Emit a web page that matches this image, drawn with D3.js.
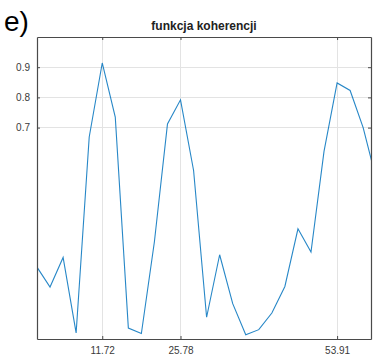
<!DOCTYPE html>
<html>
<head>
<meta charset="utf-8">
<script src="https://cdn.jsdelivr.net/npm/d3@7"></script>
<style>
  html, body { margin: 0; padding: 0; background: #fff; }
  svg { display: block; font-family: "Liberation Sans", Arial, sans-serif; }
</style>
</head>
<body>
<svg id="chart" width="377" height="358"></svg>
<script>
// ---- data ----
const frequencies = [0, 2.34, 4.69, 7.03, 9.38, 11.72, 14.06, 16.41, 18.75, 21.09, 23.44, 25.78,
  28.13, 30.47, 32.81, 35.16, 37.50, 39.84, 42.19, 44.53, 46.88, 49.22, 51.56, 53.91, 56.25, 58.59, 60.94];
const coherence = [0.238, 0.172, 0.270, 0.020, 0.669, 0.914, 0.735, 0.036, 0.018, 0.322, 0.712, 0.792,
  0.558, 0.072, 0.279, 0.117, 0.014, 0.031, 0.086, 0.174, 0.365, 0.288, 0.621, 0.848, 0.823, 0.700, 0.529];
const xTickValues = [11.72, 25.78, 53.91];
const xTickLabels = ["11.72", "25.78", "53.91"];
const yTickValues = [0.7, 0.8, 0.9];
const yTickLabels = ["0.7", "0.8", "0.9"];
const xDomain = [0, 60];
const yDomain = [0, 1];
const titleText = "funkcja koherencji";
const panelLabel = "e)";

// ---- layout ----
const W = 377, H = 358;
const margin = { left: 37, right: 6, top: 37, bottom: 19 };
const iw = W - margin.left - margin.right;
const ih = H - margin.top - margin.bottom;

const svg = d3.select("#chart");
const x = d3.scaleLinear().domain(xDomain).range([margin.left, margin.left + iw]);
const y = d3.scaleLinear().domain(yDomain).range([margin.top + ih, margin.top]);

const axisColor = "#4a4a4a";
const gridColor = "#e3e3e3";
const tickLen = 3;

// grid
const grid = svg.append("g");
grid.selectAll("line.gx").data(xTickValues).join("line")
  .attr("x1", d => x(d)).attr("x2", d => x(d))
  .attr("y1", margin.top).attr("y2", margin.top + ih)
  .attr("stroke", gridColor).attr("stroke-width", 1).attr("shape-rendering", "crispEdges");
grid.selectAll("line.gy").data(yTickValues).join("line")
  .attr("x1", margin.left).attr("x2", margin.left + iw)
  .attr("y1", d => y(d)).attr("y2", d => y(d))
  .attr("stroke", gridColor).attr("stroke-width", 1).attr("shape-rendering", "crispEdges");

// clip
svg.append("clipPath").attr("id", "clip").append("rect")
  .attr("x", margin.left).attr("y", margin.top).attr("width", iw).attr("height", ih);

// line
const pts = frequencies.map((f, i) => [f, coherence[i]]);
svg.append("path")
  .datum(pts)
  .attr("clip-path", "url(#clip)")
  .attr("fill", "none")
  .attr("stroke", "#0072BD")
  .attr("stroke-opacity", 0.85)
  .attr("stroke-width", 1.1)
  .attr("stroke-linejoin", "miter")
  .attr("d", d3.line().x(d => x(d[0])).y(d => y(d[1])));

// axes (inward ticks, box)
const fmtX = (d) => xTickLabels[xTickValues.indexOf(d)];
const fmtY = (d) => yTickLabels[yTickValues.indexOf(d)];

const gx = svg.append("g").attr("transform", `translate(0,${margin.top + ih})`)
  .call(d3.axisBottom(x).tickValues(xTickValues).tickFormat(fmtX).tickSizeInner(-tickLen).tickSizeOuter(0).tickPadding(8));
const gy = svg.append("g").attr("transform", `translate(${margin.left},0)`)
  .call(d3.axisLeft(y).tickValues(yTickValues).tickFormat(fmtY).tickSizeInner(-tickLen).tickSizeOuter(0).tickPadding(7));
const gxt = svg.append("g").attr("transform", `translate(0,${margin.top})`)
  .call(d3.axisTop(x).tickValues(xTickValues).tickFormat("").tickSizeInner(-tickLen).tickSizeOuter(0));
const gyr = svg.append("g").attr("transform", `translate(${margin.left + iw},0)`)
  .call(d3.axisRight(y).tickValues(yTickValues).tickFormat("").tickSizeInner(-tickLen).tickSizeOuter(0));

[gx, gy, gxt, gyr].forEach(g => {
  g.select(".domain").attr("stroke", axisColor).attr("stroke-width", 1.2);
  g.selectAll(".tick line").attr("stroke", axisColor);
  g.selectAll("text").attr("fill", "#3a3a3a").attr("font-size", 10)
    .attr("font-family", "'Liberation Sans', Arial, sans-serif");
});

// title
svg.append("text")
  .attr("x", margin.left + iw / 2).attr("y", 30)
  .attr("text-anchor", "middle")
  .attr("font-size", 12).attr("font-weight", "bold").attr("fill", "#222")
  .text(titleText);

// panel label
svg.append("text")
  .attr("x", 4).attr("y", 31)
  .attr("font-size", 28).attr("fill", "#000")
  .text(panelLabel);
</script>
</body>
</html>
